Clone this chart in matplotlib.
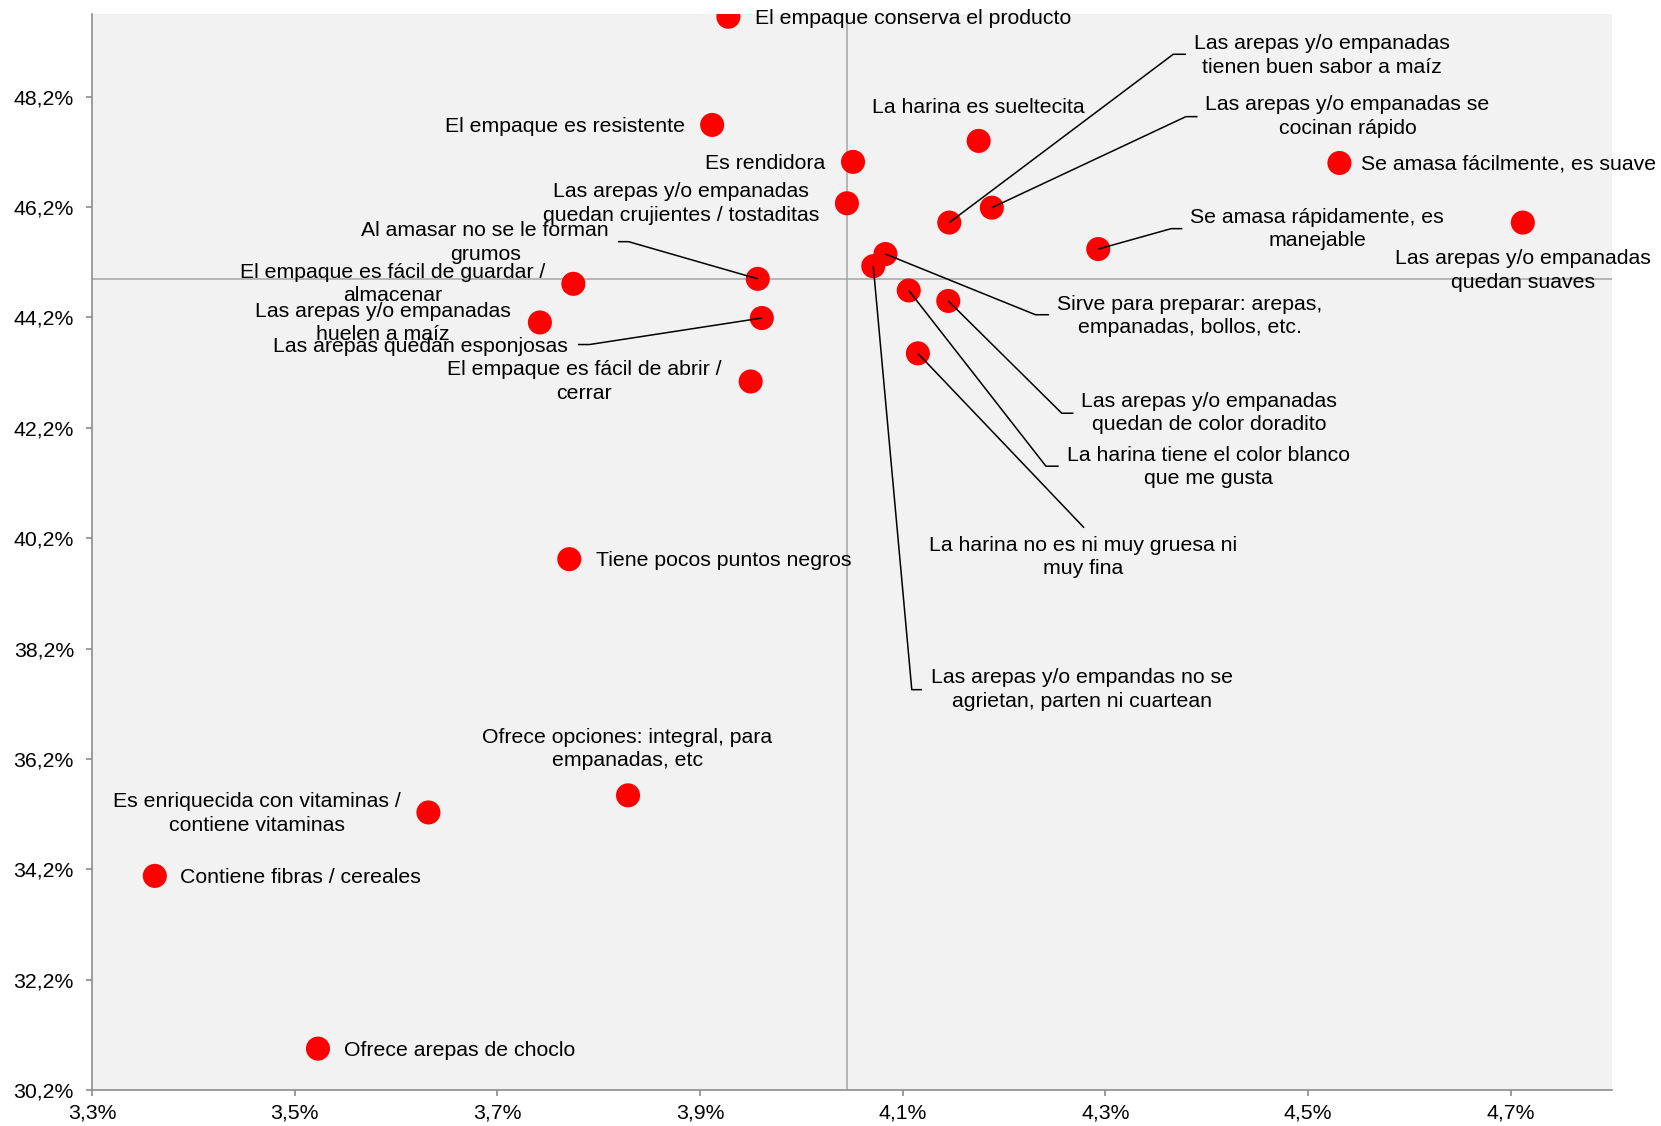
import matplotlib
matplotlib.use("Agg")
import matplotlib.pyplot as plt
from matplotlib.ticker import FixedLocator, FuncFormatter

# Attribute map: share of mentions (x, %) vs. association (y, %)
attributes = [
    "El empaque conserva el producto",
    "El empaque es resistente",
    "Es rendidora",
    "Las arepas y/o empanadas\nquedan crujientes / tostaditas",
    "La harina es sueltecita",
    "Se amasa fácilmente, es suave",
    "Las arepas y/o empanadas\ntienen buen sabor a maíz",
    "Las arepas y/o empanadas se\ncocinan rápido",
    "Se amasa rápidamente, es\nmanejable",
    "Las arepas y/o empanadas\nquedan suaves",
    "Sirve para preparar: arepas,\nempanadas, bollos, etc.",
    "Las arepas y/o empandas no se\nagrietan, parten ni cuartean",
    "La harina tiene el color blanco\nque me gusta",
    "Las arepas y/o empanadas\nquedan de color doradito",
    "La harina no es ni muy gruesa ni\nmuy fina",
    "Al amasar no se le forman\ngrumos",
    "Las arepas quedan esponjosas",
    "El empaque es fácil de guardar /\nalmacenar",
    "Las arepas y/o empanadas\nhuelen a maíz",
    "El empaque es fácil de abrir /\ncerrar",
    "Tiene pocos puntos negros",
    "Ofrece opciones: integral, para\nempanadas, etc",
    "Es enriquecida con vitaminas /\ncontiene vitaminas",
    "Contiene fibras / cereales",
    "Ofrece arepas de choclo",
]

share_x = [3.928, 3.912, 4.051, 4.045, 4.175, 4.531, 4.146, 4.188, 4.293,
           4.712, 4.083, 4.071, 4.106, 4.145, 4.115, 3.957, 3.961, 3.775,
           3.742, 3.950, 3.771, 3.829, 3.632, 3.362, 3.523]

assoc_y = [49.65, 47.69, 47.02, 46.27, 47.40, 47.00, 45.92, 46.19, 45.44,
           45.92, 45.35, 45.13, 44.69, 44.50, 43.55, 44.90, 44.19, 44.81,
           44.11, 43.04, 39.82, 35.54, 35.23, 34.08, 30.95]

# Quadrant reference lines
x_ref = 4.0447
y_ref = 44.897

x_ticks = [3.3, 3.5, 3.7, 3.9, 4.1, 4.3, 4.5, 4.7]
y_ticks = [30.2, 32.2, 34.2, 36.2, 38.2, 40.2, 42.2, 44.2, 46.2, 48.2]

# Label placement: (x, y, horizontal alignment)
label_pos = [
    (3.954, 49.62, "left"),
    (3.885, 47.67, "right"),
    (4.024, 46.99, "right"),
    (3.881, 46.265, "center"),
    (4.1746, 48.01, "center"),
    (4.552, 46.99, "left"),
    (4.514, 48.95, "center"),
    (4.539, 47.84, "center"),
    (4.509, 45.80, "center"),
    (4.712, 45.056, "center"),
    (4.3836, 44.23, "center"),
    (4.277, 37.455, "center"),
    (4.4014, 41.486, "center"),
    (4.4025, 42.465, "center"),
    (4.278, 39.855, "center"),
    (3.688, 45.555, "center"),
    (3.770, 43.674, "right"),
    (3.5964, 44.806, "center"),
    (3.587, 44.096, "center"),
    (3.7856, 43.04, "center"),
    (3.797, 39.797, "left"),
    (3.8285, 36.38, "center"),
    (3.4626, 35.21, "center"),
    (3.387, 34.058, "left"),
    (3.549, 30.91, "left"),
]

# Leader lines: index -> list of vertices after the marker
leaders = {
    6: [(4.367, 48.97), (4.3795, 48.97)],
    7: [(4.3795, 47.84), (4.391, 47.84)],
    8: [(4.365, 45.81), (4.376, 45.81)],
    10: [(4.231, 44.25), (4.2445, 44.25)],
    11: [(4.109, 37.455), (4.119, 37.455)],
    12: [(4.2414, 41.505), (4.254, 41.505)],
    13: [(4.257, 42.465), (4.2686, 42.465)],
    14: [(4.279, 40.39)],
    15: [(3.8295, 45.574), (3.819, 45.574)],
    16: [(3.791, 43.71), (3.7795, 43.71)],
}

plt.rcParams["font.family"] = ["Liberation Sans", "DejaVu Sans"]
FS = 15.3

W, H = 1661, 1126
fig = plt.figure(figsize=(W / 100, H / 100), dpi=100)
fig.patch.set_facecolor("white")
ax = fig.add_axes([92 / W, 36 / H, (1612 - 92) / W, (1090 - 14) / H])
ax.set_facecolor("#F2F2F2")
ax.set_xlim(3.3, 4.8)
ax.set_ylim(30.2, 49.7)

axis_gray = "#8C8C8C"
for side in ("top", "right"):
    ax.spines[side].set_visible(False)
for side in ("left", "bottom"):
    ax.spines[side].set_color(axis_gray)
    ax.spines[side].set_linewidth(1.2)

ax.xaxis.set_major_locator(FixedLocator(x_ticks))
ax.yaxis.set_major_locator(FixedLocator(y_ticks))
fmt = FuncFormatter(lambda v, p: f"{v:.1f}".replace(".", ",") + "%")
ax.xaxis.set_major_formatter(fmt)
ax.yaxis.set_major_formatter(fmt)
ax.tick_params(axis="both", direction="out", length=4, width=1.2,
               color=axis_gray, labelsize=FS, labelcolor="black")
ax.tick_params(axis="y", pad=9)
ax.tick_params(axis="x", pad=6)

ax.axvline(x_ref, color="#A6A6A6", lw=1.1, zorder=1)
ax.axhline(y_ref, color="#A6A6A6", lw=1.1, zorder=1)

# Leader lines under the markers
for i, pts in leaders.items():
    xs = [share_x[i]] + [p[0] for p in pts]
    ys = [assoc_y[i]] + [p[1] for p in pts]
    ax.plot(xs, ys, color="black", lw=1.1, zorder=4, solid_capstyle="butt")

ax.scatter(share_x, assoc_y, s=300, color="#FF0000", edgecolors="none", zorder=3)

for name, (lx, ly, ha) in zip(attributes, label_pos):
    ax.text(lx, ly, name, ha=ha, va="center", multialignment="center",
            fontsize=FS, color="black", linespacing=1.3, zorder=5)

fig.savefig("out.png", dpi=100)
